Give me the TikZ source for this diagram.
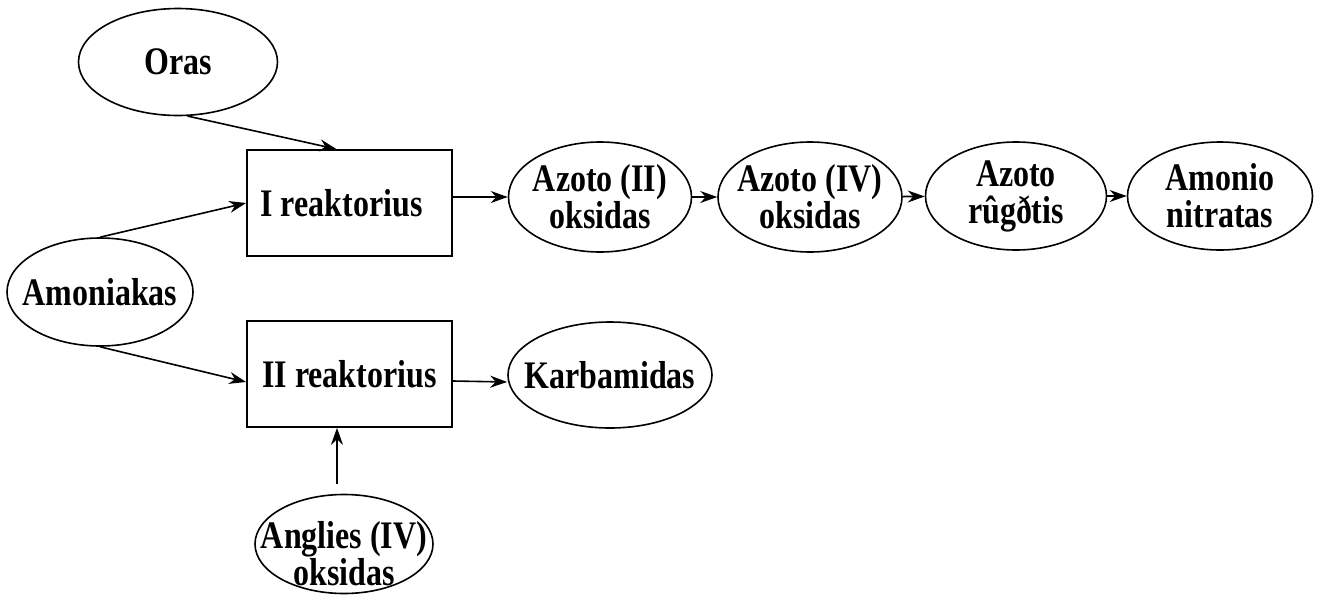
\documentclass[tikz,border=0pt]{standalone}
\usepackage{fontspec}
\setmainfont{Liberation Serif}[FakeStretch=0.82]
\usetikzlibrary{arrows.meta,positioning,shapes.geometric}

\begin{document}
\begin{tikzpicture}[x=0.5pt,y=-0.5pt,>={Stealth[length=8.5pt,width=6pt,inset=2.8pt]},
    every node/.style={font=\fontsize{19.5}{18.5}\selectfont\bfseries, align=center},
    stuff/.style={draw, ellipse, line width=0.8pt, inner sep=0pt, minimum width=#1, minimum height=54pt},
    reactor/.style={draw, rectangle, line width=0.9pt, minimum width=102.5pt, minimum height=53pt},
    flow/.style={->, line width=0.8pt}]
  \useasboundingbox (0,0) rectangle (1318,595);
  \node[stuff=99.5pt, minimum height=53.5pt, label=center:Oras] (oras) at (178,62) {};
  \node[stuff=93pt, label=center:Amoniakas] (amon) at (100,292) {};
  \node[reactor] (reak1) at (349.5,203) {I reaktorius\hspace{8pt}};
  \node[reactor] (reak2) at (349.5,374) {II reaktorius};
  \node[stuff=91.5pt, minimum height=55pt, label={center:{Azoto (II)\\oksidas}}] (azo2) at (600,197) {};
  \node[stuff=92pt, minimum height=55pt, label={center:{Azoto (IV)\\oksidas}}] (azo4) at (810,197) {};
  \node[stuff=90.5pt, label={center:{Azoto\\rûgðtis}}] (rug) at (1016,196) {};
  \node[stuff=92.5pt, label={center:{Amonio\\nitratas}}] (nitr) at (1220,196) {};
  \node[stuff=102pt, minimum height=53pt, label=center:Karbamidas] (karb) at (610,375) {};
  \node[stuff=89pt, minimum height=49.5pt, label={[yshift=-5pt]center:{Anglies (IV)\\oksidas}}] (angl) at (344,544) {};
  \draw[flow] (oras.280) -- ([xshift=-6.5pt]reak1.north);
  \draw[flow] (amon.north) -- (reak1.west);
  \draw[flow] (amon.south) -- ([yshift=-4pt]reak2.west);
  \draw[flow] (reak1.east |- azo2.west) -- (azo2.west);
  \draw[flow] (azo2) -- (azo4);
  \draw[flow] (azo4) -- (rug);
  \draw[flow] (rug) -- (nitr);
  \draw[flow] ([yshift=-3.5pt]reak2.east) -- ([yshift=-3.5pt]karb.west);
  \draw[flow, shorten <=5pt] ([xshift=-3.5pt]angl.north) -- ([xshift=-3.5pt]angl.north |- reak2.south);
\end{tikzpicture}
\end{document}
